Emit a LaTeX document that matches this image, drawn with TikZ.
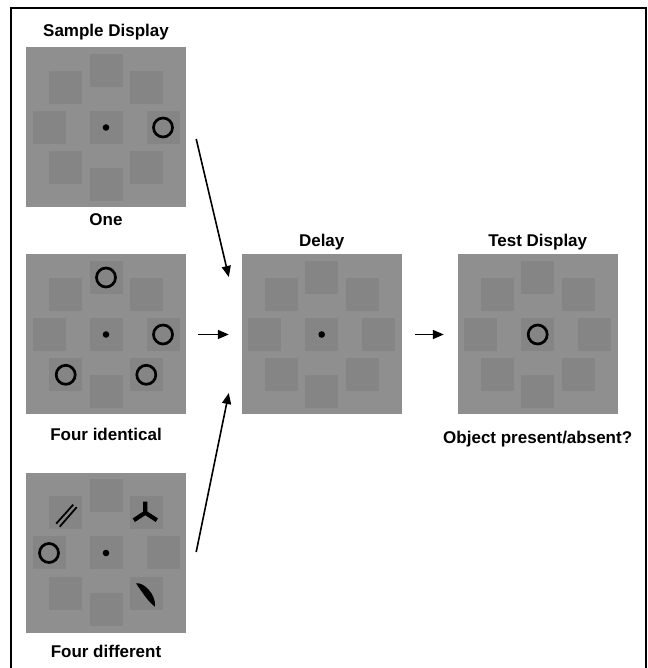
\documentclass[tikz,border=0pt]{standalone}
\usepackage{fontspec}
\setmainfont{Liberation Sans}
\usetikzlibrary{positioning,calc,arrows.meta}
\definecolor{panelgray}{RGB}{143,143,143}
\definecolor{slotgray}{RGB}{133,133,133}

\begin{document}
\begin{tikzpicture}[x=1pt,y=1pt,
    panel/.style={fill=panelgray,minimum size=160pt,inner sep=0pt},
    slot/.style={fill=slotgray,minimum size=33pt,inner sep=0pt},
    lbl/.style={font=\bfseries\fontsize{17}{20}\selectfont,inner sep=0pt,text height=12pt,text depth=3.6pt},
    ring/.style={line width=2.7pt},
    arr/.style={line width=1.6pt,-{Triangle[length=11pt,width=9pt]}}]
    \useasboundingbox (0,0) rectangle (647,668);
    \draw[line width=2pt] (11,-5) |- (646,660) -- (646,-5);
    \node[panel] (one) at (106,540.5) {};
    \node[panel] (ident) at (106,333.5) {};
    \node[panel] (diff) at (106,115) {};
    \node[panel] (delay) at (321.7,333.5) {};
    \node[panel] (test) at (537.7,333.5) {};
    \foreach \p in {one,ident,diff,delay,test} {
        \node[slot] (\p-c) at (\p) {};
        \foreach \a in {0,45,...,315}
            \node[slot] (\p\a) at ($(\p)+(\a:57)$) {};
    }
    \foreach \p in {one,ident,diff,delay}
        \fill (\p-c.center) circle (3.3);
    \foreach \s in {one0,ident90,ident0,ident225,ident315,diff180,test-c}
        \draw[ring] (\s.center) circle (9.5);
    \begin{scope}[shift={(diff135.center)},line width=1.8pt]
        \draw (-9.5,-11) -- +(17,19);
        \draw (-6,-14) -- +(17,19.5);
    \end{scope}
    \begin{scope}[shift={(diff45.center)},line width=4.2pt]
        \draw (-1,11) -- (-1,0) -- (-12.5,-7.5);
        \draw (-1,0) -- (10.5,-7.5);
    \end{scope}
    \begin{scope}[shift={(diff315.center)}]
        \fill (-10.3,10) .. controls (-3,11.5) and (10,-1) .. (8.7,-13.4)
            .. controls (2,-9) and (-6,4) .. (-10.3,10) -- cycle;
    \end{scope}
    \node[lbl,above=6.5pt of one] (sampleLbl) {Sample Display};
    \node[lbl,below=6pt of one] (oneLbl) {One};
    \node[lbl,below=14pt of ident] (identLbl) {Four identical};
    \node[lbl,below=12pt of diff] (diffLbl) {Four different};
    \node[lbl,above=4.2pt of delay] (delayLbl) {Delay};
    \node[lbl,above=4.2pt of test] (testLbl) {Test Display};
    \node[lbl,below=16.5pt of test] (objLbl) {Object present/absent?};
    \draw[arr] ($(one.east)+(10,-11.5)$) -- ($(delay.west)+(-12.7,57.5)$);
    \draw[arr] ($(ident.east)+(12,0)$) -- ($(delay.west)+(-12.7,0)$);
    \draw[arr] ($(diff.east)+(10,1)$) -- ($(delay.west)+(-12.7,-58.5)$);
    \draw[arr] ($(delay.east)+(13.3,0)$) -- ($(test.west)+(-13.7,0)$);
\end{tikzpicture}
\end{document}
